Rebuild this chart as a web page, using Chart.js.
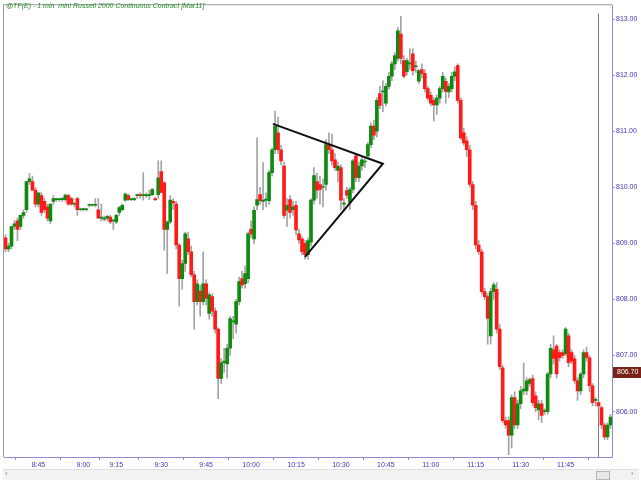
<!DOCTYPE html>
<html>
<head>
<meta charset="utf-8">
<script src="https://cdn.jsdelivr.net/npm/chart.js@4/dist/chart.umd.min.js"></script>
<style>
html,body{margin:0;padding:0;background:#fff;overflow:hidden;}
#wrap{position:relative;width:641px;height:481px;}
#title{position:absolute;left:6px;top:2px;font:italic 7px "Liberation Sans",Arial,sans-serif;color:#2a8c2a;white-space:pre;}
#scroll{position:absolute;left:3px;top:469px;width:636px;height:10px;background:#f2f2f2;border-top:1px solid #e0e0e0;}
#thumb{position:absolute;left:593px;top:1px;width:12px;height:7px;background:#e8e8e8;border:1px solid #b8b8b8;}
.arr{position:absolute;top:0px;font:7px "Liberation Sans",Arial,sans-serif;color:#777;}
</style>
</head>
<body>
<div id="wrap">
<canvas id="c" width="641" height="481"></canvas>
<div id="title">@TF(E) - 1 min  mini Russell 2000 Continuous Contract [Mar11]</div>
<div id="scroll"><span class="arr" style="left:2px">‹</span><div id="thumb"></div><span class="arr" style="left:628px">›</span></div>
</div>
<script>
// ---- data (1-minute bars) ----
const sessionStart = '8:34';
const missingMinutes = ['9:03','9:06','9:09','9:12'];
const tickLabels = ['8:45','9:00','9:15','9:30','9:45','10:00','10:15','10:30','10:45','11:00','11:15','11:30','11:45'];
const yTicks = [806,807,808,809,810,811,812,813];

const opens = [
809.1,808.9,808.95,809.3,809.4,809.3,809.5,809.6,810.1,810.1,
809.95,809.7,809.85,809.75,809.65,809.4,809.75,809.78,809.78,809.78,
809.78,809.85,809.8,809.7,809.8,809.6,809.6,809.6,809.68,809.68,
809.68,809.6,809.45,809.43,809.45,809.47,809.4,809.38,809.55,809.6,
809.77,809.85,809.78,809.78,809.85,809.87,809.85,809.85,809.85,809.87,
809.8,809.87,810.28,810.08,809.25,809.38,809.75,809.7,808.97,808.37,
808.64,809.08,808.85,808.44,807.96,808.15,807.96,808.28,807.75,808.05,
807.79,807.47,806.59,806.87,806.85,807.13,807.6,807.56,807.96,808.37,
808.28,808.37,809.25,809.08,809.68,809.87,809.75,809.77,809.76,810.26,
810.67,810.97,810.67,810.38,809.59,809.78,809.6,809.68,809.17,809.08,
809.0,808.8,809.02,809.77,810.1,810.05,810.0,810.05,810.76,810.67,
810.49,810.3,810.35,809.7,809.94,809.73,809.96,810.56,810.17,810.38,
810.45,810.56,810.76,811.09,811.0,811.67,811.7,811.5,811.8,811.98,
812.2,812.3,812.73,812.26,812.06,812.2,812.38,812.15,811.89,812.1,
812.03,811.76,811.64,811.55,811.47,811.59,811.76,811.89,811.7,811.76,
811.98,812.17,811.55,810.97,810.83,810.67,810.05,809.68,808.97,808.85,
808.14,808.05,807.35,808.14,808.18,807.47,806.78,805.84,805.84,805.58,
806.25,805.76,806.14,806.37,806.37,806.5,806.59,806.28,806.03,806.14,
806.0,806.0,806.67,807.1,807.17,807.05,807.05,807.03,807.35,807.05,
806.94,806.55,806.37,806.67,807.05,806.96,806.46,806.2,806.16,806.07,
805.76,805.55,805.76];
const highs = [
809.15,809.0,809.3,809.4,809.45,809.5,809.6,810.1,810.25,810.2,
810.0,809.9,809.9,809.8,809.7,809.7,809.85,809.8,809.8,809.82,
809.88,809.88,809.82,809.72,809.82,809.62,809.62,809.62,809.7,809.7,
809.8,809.8,809.7,809.48,809.5,809.5,809.42,809.52,809.66,809.7,
809.9,809.88,809.8,809.82,809.88,809.9,810.26,809.9,809.95,809.98,
809.82,810.47,810.47,810.1,809.4,809.85,809.8,809.75,809.0,808.7,
809.2,809.2,808.95,808.5,808.35,808.25,808.85,808.35,808.12,808.1,
807.85,807.5,806.95,807.13,807.2,807.7,807.7,808.0,808.4,808.5,
808.6,809.2,809.4,809.65,810.88,810.0,810.44,809.9,810.3,810.7,
811.36,811.25,810.75,810.45,809.8,809.85,809.75,809.75,809.25,809.12,
809.05,809.1,809.8,810.35,810.25,810.2,810.15,810.85,810.97,810.95,
810.6,810.45,810.4,809.8,810.0,810.0,810.5,810.6,810.45,810.55,
810.55,810.8,811.15,811.2,811.6,811.8,811.9,811.85,812.05,812.25,
812.4,812.85,813.05,812.35,812.3,812.47,812.47,812.25,812.1,812.2,
812.1,811.8,811.7,811.6,811.65,811.8,812.05,811.95,811.85,812.05,
812.15,812.2,811.6,811.05,810.9,810.75,810.1,809.75,809.05,808.9,
808.2,808.1,808.2,808.3,808.3,807.55,806.82,805.9,805.9,806.3,
806.35,806.2,806.45,806.87,806.6,806.6,806.65,806.35,806.2,806.2,
806.05,806.7,807.2,807.35,807.2,807.1,807.1,807.5,807.4,807.1,
807.0,806.6,806.7,807.1,807.15,807.0,806.5,806.25,806.2,806.1,
805.8,805.8,805.95];
const lows = [
808.85,808.85,808.9,809.25,809.05,809.25,809.45,809.55,810.05,809.95,
809.65,809.65,809.5,809.55,809.4,809.35,809.7,809.75,809.75,809.75,
809.75,809.68,809.68,809.65,809.5,809.58,809.58,809.58,809.65,809.66,
809.65,809.45,809.4,809.4,809.4,809.35,809.25,809.35,809.5,809.58,
809.75,809.76,809.76,809.76,809.8,809.8,809.77,809.82,809.78,809.85,
809.76,809.8,809.9,808.88,808.46,809.35,809.6,808.9,807.88,808.18,
808.5,808.8,808.4,807.47,807.9,807.7,807.9,807.9,807.65,807.7,
807.4,806.23,806.5,806.7,806.6,807.0,807.3,807.4,807.9,808.2,
808.2,808.3,809.1,809.0,809.6,809.7,809.6,809.65,809.7,810.2,
810.6,810.6,810.4,809.45,809.3,809.45,809.5,809.15,809.0,808.8,
808.72,808.72,808.95,809.7,809.8,809.7,809.65,809.95,810.6,810.4,
810.3,810.1,809.6,809.6,809.8,809.6,809.9,810.1,810.1,810.3,
810.35,810.5,810.7,810.85,810.9,811.4,811.35,811.45,811.75,811.9,
812.1,812.25,812.2,811.95,812.0,812.1,812.0,812.05,811.85,811.95,
811.7,811.55,811.45,811.18,811.3,811.5,811.7,811.5,811.6,811.7,
811.9,811.5,810.85,810.75,810.55,810.0,809.6,808.9,808.8,808.1,
808.0,807.2,807.2,808.0,807.4,806.75,805.8,805.7,805.23,805.35,
805.7,805.7,806.05,806.3,806.3,806.45,806.1,806.0,805.85,805.8,
805.95,805.95,806.6,806.85,806.6,806.9,806.95,807.0,806.8,806.85,
806.5,806.2,806.3,806.6,806.9,806.35,806.1,806.1,806.05,805.7,
805.5,805.5,805.7];
const closes = [
808.9,808.95,809.3,809.35,809.25,809.5,809.55,810.1,810.15,809.95,
809.7,809.9,809.55,809.6,809.45,809.7,809.8,809.78,809.78,809.8,
809.86,809.7,809.7,809.7,809.6,809.6,809.62,809.6,809.68,809.68,
809.68,809.45,809.45,809.45,809.48,809.38,809.4,809.5,809.64,809.68,
809.88,809.78,809.78,809.8,809.87,809.85,809.85,809.86,809.85,809.96,
809.78,810.17,809.91,809.25,809.38,809.77,809.72,808.97,808.37,808.64,
809.17,808.85,808.44,807.96,808.28,807.96,808.28,808.02,808.08,807.79,
807.47,806.59,806.87,806.9,807.13,807.66,807.62,807.96,808.32,808.26,
808.46,809.17,809.17,809.59,809.78,809.76,809.77,809.77,810.26,810.67,
811.09,810.67,810.47,809.5,809.68,809.55,809.65,809.24,809.06,808.85,
808.8,809.05,809.77,810.21,809.95,809.96,810.0,810.76,810.67,810.47,
810.35,810.38,809.77,809.72,809.86,809.96,810.47,810.17,810.38,810.49,
810.46,810.76,811.09,810.93,811.55,811.46,811.72,811.8,811.98,812.2,
812.35,812.79,812.3,811.98,812.26,812.22,812.08,812.15,812.08,812.03,
811.76,811.59,811.5,811.47,811.59,811.76,811.98,811.71,811.8,811.98,
812.06,811.55,810.88,810.79,810.67,810.05,809.68,808.97,808.85,808.14,
808.05,807.66,808.14,808.26,807.47,806.8,805.84,805.76,805.58,806.25,
805.76,806.14,806.37,806.4,806.55,806.57,806.16,806.07,806.14,805.93,
806.0,806.67,807.13,806.95,806.67,806.96,807.0,807.47,806.87,806.9,
806.55,806.37,806.67,807.05,806.96,806.46,806.16,806.2,806.1,805.76,
805.55,805.76,805.9];
const lastPriceTag = 806.70;
const cursorBar = 198;
// triangle drawn on the chart: [bar index, price]
const triangleBars = [89.3, 126, 100];
const trianglePrices = [811.13, 810.42, 808.76];

// ---- category labels (minute times) ----
const times = [];
(function(){
  const [h0,m0] = sessionStart.split(':').map(Number);
  let t = h0*60+m0;
  while (times.length < opens.length) {
    const s = Math.floor(t/60) + ':' + String(t%60).padStart(2,'0');
    if (!missingMinutes.includes(s)) times.push(s);
    t++;
  }
})();

const GREEN = '#0f8a0f', RED = '#ff1a1a', WICK = '#a3a3a3', AXIS = '#8c8cd8', LBL = '#3a3ab8';
const yMin = 805.19, yMax = 813.247;

const bodyData = opens.map((o,i)=>[Math.min(o,closes[i]), Math.max(o,closes[i])]);
const bodyColors = opens.map((o,i)=> closes[i] >= o ? GREEN : RED);
const wickData = lows.map((l,i)=>[l, highs[i]]);

const tagPlugin = {
  id:'tag',
  afterDraw(chart){
    const {ctx, chartArea, scales} = chart;
    ctx.save();
    // frame (left / top)
    ctx.strokeStyle = '#9a9a9a'; ctx.lineWidth = 1;
    ctx.beginPath();
    ctx.moveTo(chartArea.left-0.5, chartArea.bottom);
    ctx.lineTo(chartArea.left-0.5, chartArea.top-0.5);
    ctx.lineTo(chartArea.right, chartArea.top-0.5);
    ctx.stroke();
    const y = scales.y.getPixelForValue(lastPriceTag);
    ctx.fillStyle = '#7a2418';
    ctx.fillRect(chartArea.right+1, Math.round(y)-5, 28, 11);
    ctx.fillStyle = '#ffffff';
    ctx.font = '7px "Liberation Sans", Arial, sans-serif';
    ctx.textBaseline = 'middle';
    ctx.textAlign = 'left';
    ctx.fillText(lastPriceTag.toFixed(2), chartArea.right+5, Math.round(y)+0.5);
    ctx.restore();
  }
};

new Chart(document.getElementById('c'), {
  data: {
    labels: times,
    datasets: [
      { type:'line', xAxisID:'xl', order:0,
        data: triangleBars.map((b,i)=>({x:b, y:trianglePrices[i]})),
        borderColor:'#111', borderWidth:2, pointRadius:0, tension:0, fill:false },
      { type:'bar', order:1, data: bodyData, backgroundColor: bodyColors,
        barThickness:3, grouped:false, minBarLength:1, borderWidth:0 },
      { type:'bar', order:2, data: wickData, backgroundColor: WICK,
        barThickness:1, grouped:false, borderWidth:0 },
      { type:'line', xAxisID:'xl', order:3,
        data:[{x:cursorBar,y:yMin},{x:cursorBar,y:813.1}],
        borderColor:'#7a7a7a', borderWidth:1, pointRadius:0, fill:false }
    ]
  },
  options: {
    responsive:false, animation:false, devicePixelRatio:1,
    layout:{ padding:{ left:4, top:1, right:0, bottom:12 } },
    plugins:{ legend:{display:false}, tooltip:{enabled:false}, title:{display:false} },
    scales:{
      x:{ type:'category', offset:true,
        grid:{ display:true, drawOnChartArea:false, tickLength:3, color:AXIS },
        border:{ display:true, color:AXIS, width:1 },
        ticks:{ autoSkip:false, maxRotation:0, padding:1, color:LBL,
          font:{ size:7, family:'"Liberation Sans", Arial, sans-serif' },
          callback:(v)=>times[v] },
        afterBuildTicks:(s)=>{ s.ticks = s.ticks.filter(t=>tickLabels.includes(times[t.value])); },
        afterFit:(s)=>{ s.height = 12; }
      },
      xl:{ type:'linear', display:false, min:-0.5, max:opens.length-0.5 },
      y:{ type:'linear', position:'right', min:yMin, max:yMax,
        grid:{ display:true, drawOnChartArea:false, tickLength:3, color:AXIS },
        border:{ display:true, color:AXIS, width:1 },
        ticks:{ padding:1, color:LBL, font:{ size:7, family:'"Liberation Sans", Arial, sans-serif' },
          callback:(v)=>Number(v).toFixed(2) },
        afterBuildTicks:(s)=>{ s.ticks = yTicks.map(v=>({value:v})); },
        afterFit:(s)=>{ s.width = 29; }
      }
    }
  },
  plugins:[tagPlugin]
});
</script>
</body>
</html>
